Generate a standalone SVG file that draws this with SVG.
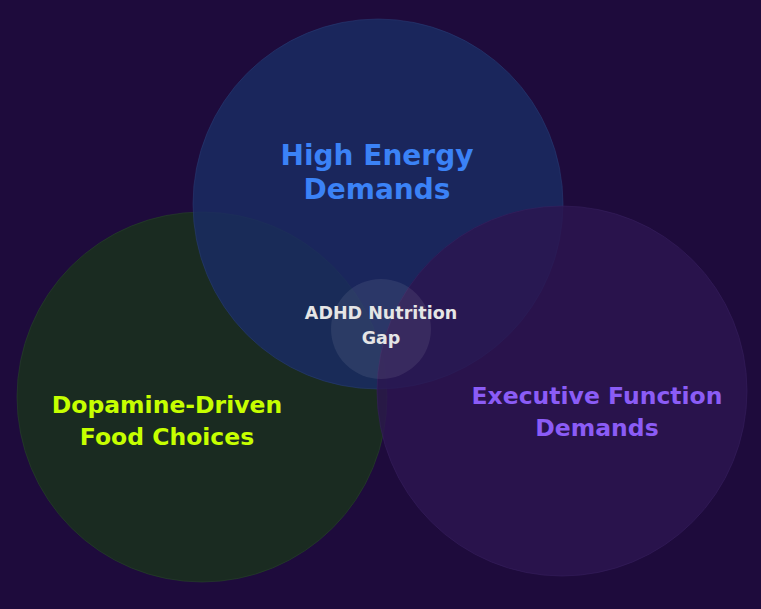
<svg xmlns="http://www.w3.org/2000/svg" width="761" height="609" viewBox="0 0 761 609">
<style>
text{font-family:"DejaVu Sans",sans-serif;font-weight:bold;text-anchor:middle}
</style>
<rect width="761" height="609" fill="#1e0b3c"/>
<g id="dopamine">
<circle cx="202" cy="397" r="185" fill="#1a2f20" fill-opacity="0.92" stroke="#2a4a2a" stroke-opacity="0.5"/>
</g>
<g id="high-energy">
<circle cx="378" cy="204" r="185" fill="#1a2c62" fill-opacity="0.85" stroke="#2a3f7a" stroke-opacity="0.5"/>
</g>
<g id="executive">
<circle cx="562" cy="391" r="185" fill="#2c1550" fill-opacity="0.8" stroke="#3a2262" stroke-opacity="0.5"/>
</g>
<g id="center">
<circle cx="381" cy="329" r="50" fill="#ffffff" fill-opacity="0.08"/>
</g>
<g id="labels">
<text x="377" y="165" font-size="28" fill="#3b82f6">High Energy</text>
<text x="377" y="199" font-size="28" fill="#3b82f6">Demands</text>
<text x="167" y="413" font-size="23.5" fill="#c6ff00">Dopamine-Driven</text>
<text x="167" y="445" font-size="23.5" fill="#c6ff00">Food Choices</text>
<text x="597" y="404" font-size="23.5" fill="#8b5cf6">Executive Function</text>
<text x="597" y="436" font-size="23.5" fill="#8b5cf6">Demands</text>
<text x="381" y="319" font-size="17.5" fill="#e5e5e5">ADHD Nutrition</text>
<text x="381" y="344" font-size="17.5" fill="#e5e5e5">Gap</text>
</g>
</svg>
